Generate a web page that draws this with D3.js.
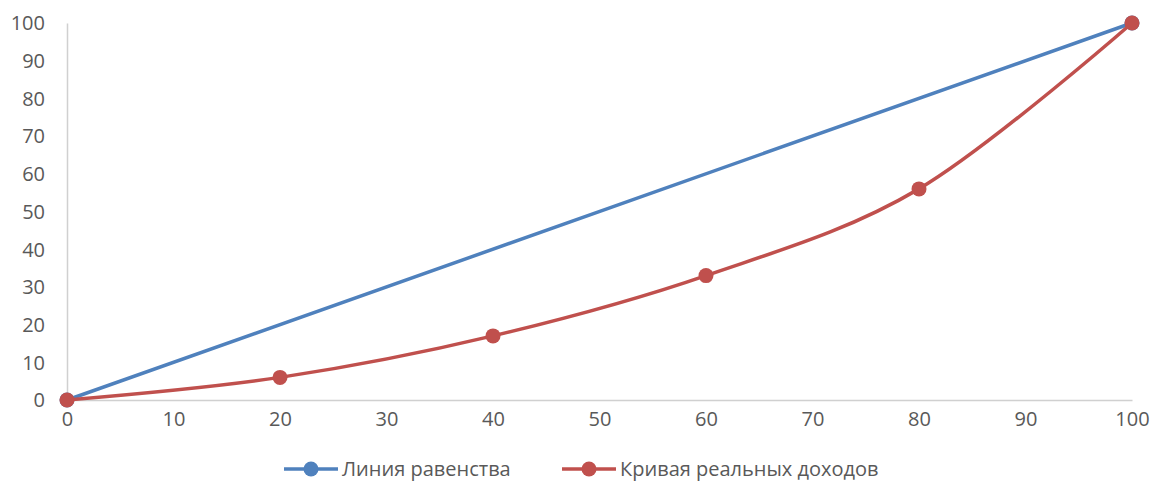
<!DOCTYPE html>
<html>
<head>
<meta charset="utf-8">
<script src="https://cdn.jsdelivr.net/npm/d3@7"></script>
<style>
  html, body { margin: 0; padding: 0; background: #fff; }
  svg text { font-family: "Open Sans", "Liberation Sans", sans-serif; fill: #595959; }
</style>
</head>
<body>
<svg id="chart" width="1153" height="482"></svg>
<script>
// Lorenz curve: cumulative share of population vs cumulative share of income
const xTicks = [0, 10, 20, 30, 40, 50, 60, 70, 80, 90, 100];
const yTicks = [0, 10, 20, 30, 40, 50, 60, 70, 80, 90, 100];

const equalityX = [0, 100];
const equalityY = [0, 100];

const incomeX = [0, 20, 40, 60, 80, 100];
const incomeY = [0, 6, 17, 33, 56, 100];

const seriesNames = ["Линия равенства", "Кривая реальных доходов"];
const seriesColors = ["#4F81BD", "#C0504D"];

const svg = d3.select("#chart");
const plotLeft = 67, plotRight = 1132, plotTop = 23, plotBottom = 400;

const x = d3.scaleLinear().domain([0, 100]).range([plotLeft, plotRight]);
const y = d3.scaleLinear().domain([0, 100]).range([plotBottom, plotTop]);

// axes
const xAxis = d3.axisBottom(x).tickValues(xTicks).tickSize(0).tickPadding(22);
const yAxis = d3.axisLeft(y).tickValues(yTicks).tickSize(0).tickPadding(22);

const gx = svg.append("g").attr("transform", `translate(0,${plotBottom})`).call(xAxis);
const gy = svg.append("g").attr("transform", `translate(${plotLeft},0)`).call(yAxis);

[gx, gy].forEach(g => {
  g.select(".domain").attr("stroke", "#D0D0D0").attr("stroke-width", 1.5);
  g.selectAll("text")
    .style("font-family", '"Open Sans", "Liberation Sans", sans-serif')
    .style("font-size", "20px")
    .attr("fill", "#595959");
});
gx.selectAll("text").attr("dy", "0.2em");
gy.selectAll("text").attr("dy", "0.34em");

// series
const series = [
  { pts: equalityX.map((v, i) => [v, equalityY[i]]), color: seriesColors[0], curve: d3.curveLinear },
  { pts: incomeX.map((v, i) => [v, incomeY[i]]), color: seriesColors[1], curve: d3.curveCatmullRom.alpha(0) }
];

series.forEach(s => {
  const line = d3.line().x(d => x(d[0])).y(d => y(d[1])).curve(s.curve);
  svg.append("path")
    .attr("d", line(s.pts))
    .attr("fill", "none")
    .attr("stroke", s.color)
    .attr("stroke-width", 3.5)
    .attr("stroke-linecap", "round");
  svg.append("g").selectAll("circle")
    .data(s.pts)
    .join("circle")
    .attr("cx", d => x(d[0]))
    .attr("cy", d => y(d[1]))
    .attr("r", 7.5)
    .attr("fill", s.color);
});

// legend
const legendY = 469;
const legendX = [284, 562];
seriesNames.forEach((name, i) => {
  const g = svg.append("g").attr("transform", `translate(${legendX[i]},${legendY})`);
  g.append("line").attr("x1", 0).attr("x2", 54).attr("y1", 0).attr("y2", 0)
    .attr("stroke", seriesColors[i]).attr("stroke-width", 3.5);
  g.append("circle").attr("cx", 27).attr("cy", 0).attr("r", 7.5).attr("fill", seriesColors[i]);
  g.append("text").attr("x", 58).attr("y", 0).attr("dy", "0.35em")
    .style("font-size", "20px").text(name);
});
</script>
</body>
</html>
